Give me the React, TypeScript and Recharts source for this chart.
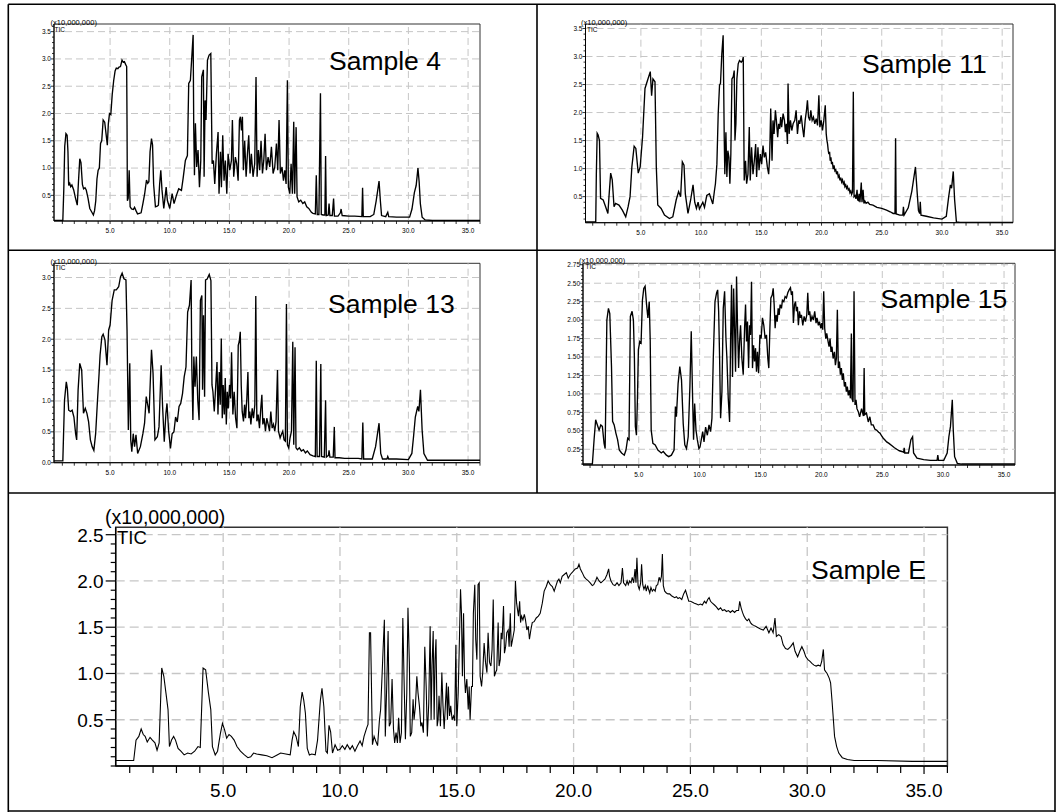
import React from 'react';
import { LineChart, Line, XAxis, YAxis, ReferenceLine, ReferenceArea } from 'recharts';

type Pt = [number, number];

const FONT = '"Liberation Sans", Arial, sans-serif';

// retention time (min) ticks
const xMajorTicks = [5, 10, 15, 20, 25, 30, 35];
const xMinorStep = 1;

// TIC intensity (x10,000,000) major ticks per panel
const yMajor4 = [0.5, 1.0, 1.5, 2.0, 2.5, 3.0, 3.5];
const yMajor11 = [0.5, 1.0, 1.5, 2.0, 2.5, 3.0, 3.5];
const yMajor13 = [0.0, 0.5, 1.0, 1.5, 2.0, 2.5, 3.0];
const yMajor15 = [0.25, 0.5, 0.75, 1.0, 1.25, 1.5, 1.75, 2.0, 2.25, 2.5, 2.75];
const yMajorE = [0.5, 1.0, 1.5, 2.0, 2.5];

const sampleNames = ['Sample 4', 'Sample 11', 'Sample 13', 'Sample 15', 'Sample E'];
const unitLabel = '(x10,000,000)';
const ticLabel = 'TIC';

const sample4: Pt[] = [
  [0.3,0.04],[1.04,0.04],[1.12,0.6],[1.2,1.4],[1.3,1.63],[1.4,1.6],[1.47,1.3],[1.53,0.68],[1.62,0.72],[1.7,0.66],[1.8,0.69],[1.95,0.6],[2.1,0.45],[2.25,0.32],[2.35,0.75],[2.46,1.17],[2.56,1.1],[2.68,0.7],[2.78,0.62],[2.9,0.64],[3.0,0.6],[3.15,0.45],[3.3,0.26],[3.45,0.2],[3.6,0.14],[3.7,0.22],[3.8,0.4],[3.9,0.8],[4.0,0.96],[4.1,1.0],[4.2,1.45],[4.3,1.5],[4.42,1.88],[4.55,1.84],[4.65,1.65],[4.77,1.42],[4.85,1.8],[4.95,2.0],[5.06,1.98],[5.18,2.35],[5.3,2.6],[5.42,2.78],[5.52,2.83],[5.65,2.82],[5.75,2.85],[5.87,2.86],[6.0,2.98],[6.1,2.94],[6.2,2.95],[6.3,2.9],[6.39,2.86],[6.42,1.8],[6.45,0.4],[6.52,0.45],[6.6,0.96],[6.68,0.29],[6.8,0.25],[6.95,0.24],[7.05,0.28],[7.17,0.22],[7.3,0.16],[7.45,0.17],[7.6,0.18],[7.75,0.35],[7.9,0.53],[8.05,0.78],[8.15,0.72],[8.25,0.75],[8.35,1.3],[8.47,1.54],[8.56,1.42],[8.65,0.7],[8.8,0.29],[8.95,0.3],[9.05,0.32],[9.15,0.7],[9.25,0.96],[9.35,0.6],[9.5,0.26],[9.6,0.45],[9.7,0.65],[9.8,0.41],
  [10.0,0.26],[10.2,0.53],[10.36,0.35],[10.56,0.5],[10.75,0.62],[10.98,0.59],[11.12,0.81],[11.31,1.14],[11.48,1.23],[11.59,2.55],[11.73,2.61],[11.96,3.44],[12.01,1.75],[12.07,0.87],[12.15,1.82],[12.26,1.02],[12.37,1.33],[12.49,0.65],[12.6,1.14],[12.68,2.67],[12.82,2.8],[12.88,0.84],[12.96,2.24],[13.04,1.88],[13.16,2.98],[13.3,3.07],[13.44,3.1],[13.55,1.08],[13.66,1.14],[13.77,0.71],[13.91,1.26],[14.05,1.66],[14.13,0.53],[14.25,1.3],[14.33,0.65],[14.44,1.6],[14.55,0.77],[14.66,1.14],[14.78,0.53],[14.89,1.26],[15.03,0.96],[15.17,1.14],[15.25,1.88],[15.36,0.84],[15.5,1.2],[15.61,1.08],[15.73,0.77],[15.84,1.88],[15.92,1.94],[16.01,1.69],[16.09,1.94],[16.17,0.96],[16.28,1.5],[16.4,0.84],[16.51,1.26],[16.62,1.6],[16.73,0.9],[16.84,1.26],[16.98,0.84],[17.12,1.08],[17.23,2.67],[17.32,0.84],[17.43,1.33],[17.54,0.96],[17.65,1.5],[17.77,0.9],[17.88,1.14],[17.99,1.63],[18.1,0.96],[18.24,1.2],[18.38,1.02],[18.52,1.39],[18.66,0.9],[18.8,1.02],[18.94,1.45],[19.05,0.96],[19.16,1.88],[19.27,0.9],[19.41,1.02],[19.53,0.77],[19.64,0.96],[19.75,0.71],[19.86,2.61],[19.94,0.65],[20.06,0.53],[20.17,1.08],[20.28,0.53],[20.39,1.85],[20.47,0.53],[20.59,1.75],[20.67,0.47],[20.81,0.38],[20.98,0.41],[21.15,0.35],[21.31,0.38],[21.48,0.29],[21.65,0.26],[21.87,0.19],
  [22.0,0.17],[22.2,0.16],[22.28,0.87],[22.36,0.15],[22.5,0.15],[22.63,2.37],[22.7,0.15],[22.85,0.14],[23.0,0.14],[23.06,1.22],[23.12,0.13],[23.28,0.14],[23.35,0.35],[23.42,0.13],[23.62,0.13],[23.73,0.44],[23.8,0.12],[24.1,0.12],[24.3,0.18],[24.36,0.25],[24.45,0.13],[25.0,0.12],[25.5,0.12],[26.1,0.11],[26.16,0.64],[26.22,0.11],[26.8,0.11],[27.1,0.15],[27.3,0.4],[27.54,0.76],[27.65,0.4],[27.75,0.13],[28.1,0.11],[28.27,0.19],[28.35,0.11],[29.0,0.1],[29.6,0.1],[30.1,0.1],[30.3,0.25],[30.5,0.55],[30.65,0.68],[30.8,1.0],[30.9,0.75],[31.0,0.35],[31.15,0.1],[31.4,0.05],[32.0,0.04],[36.0,0.04],
];

const sample11: Pt[] = [
  [0.4,0.05],[1.25,0.05],[1.3,0.9],[1.37,1.63],[1.45,1.6],[1.56,1.5],[1.65,0.47],[1.87,0.44],[2.07,0.32],[2.26,0.2],[2.35,0.5],[2.49,0.92],[2.62,0.8],[2.77,0.32],[2.9,0.38],[3.18,0.35],[3.46,0.26],[3.74,0.14],[3.94,0.32],[4.1,0.5],[4.25,1.03],[4.44,1.4],[4.58,1.36],[4.78,0.92],[4.94,1.03],[5.14,1.57],[5.34,2.43],[5.56,2.58],[5.78,2.73],[5.89,2.3],[6.0,2.6],[6.17,2.55],[6.28,1.03],[6.4,0.35],[6.68,0.29],[6.96,0.17],[7.37,0.11],[7.65,0.14],[7.93,0.44],[8.13,0.59],[8.3,0.5],[8.44,1.12],[8.58,1.06],[8.69,0.55],[8.91,0.2],[9.13,0.44],[9.33,0.71],[9.47,0.4],[9.61,0.29],[9.75,0.4],
  [9.86,0.28],[10.14,0.4],[10.28,0.31],[10.47,0.52],[10.69,0.55],[10.83,0.46],[10.97,0.37],[11.11,0.61],[11.19,0.73],[11.31,1.08],[11.42,1.98],[11.53,2.49],[11.61,2.52],[11.72,3.05],[11.83,3.38],[11.92,1.56],[11.97,0.9],[12.06,1.65],[12.14,0.85],[12.22,1.32],[12.31,1.2],[12.39,0.73],[12.47,1.26],[12.56,2.6],[12.67,2.64],[12.75,2.75],[12.81,1.5],[12.89,1.8],[12.97,2.6],[13.08,2.87],[13.19,2.93],[13.33,2.9],[13.44,2.93],[13.5,2.99],[13.58,0.79],[13.69,1.14],[13.78,0.73],[13.89,0.9],[14.0,1.74],[14.08,0.79],[14.19,1.38],[14.31,0.9],[14.42,1.14],[14.53,1.44],[14.61,0.85],[14.72,1.38],[14.81,0.97],[14.92,1.26],[15.03,1.08],[15.14,1.41],[15.25,1.2],[15.36,1.29],[15.5,1.03],[15.61,0.9],[15.69,1.2],[15.78,2.07],[15.89,1.14],[15.97,1.86],[16.06,1.62],[16.17,2.04],[16.25,1.86],[16.36,1.56],[16.44,1.8],[16.53,1.71],[16.61,1.92],[16.69,1.74],[16.81,1.98],[16.92,1.86],[17.0,1.65],[17.08,1.8],[17.17,1.44],[17.22,2.52],[17.31,1.62],[17.42,1.86],[17.53,1.68],[17.64,1.8],[17.78,1.86],[17.89,2.04],[18.0,1.62],[18.11,1.86],[18.19,1.8],[18.31,1.95],[18.42,1.74],[18.53,1.56],[18.64,1.86],[18.75,2.04],[18.83,2.22],[18.92,1.92],[19.03,1.86],[19.11,2.04],[19.22,1.86],[19.33,1.92],[19.44,1.8],[19.56,1.89],[19.67,1.77],[19.78,2.31],[19.86,1.74],[19.97,1.86],[20.08,1.68],[20.19,1.86],[20.31,2.13],
  [20.39,1.62],[20.45,1.5],[20.5,1.44],[20.56,1.32],[20.61,1.26],[20.67,1.3],[20.72,1.14],[20.78,1.2],[20.83,1.08],[20.9,1.12],[20.97,0.99],[21.04,1.06],[21.11,0.96],[21.18,0.98],[21.25,0.9],[21.32,0.95],[21.39,0.85],[21.46,0.88],[21.53,0.79],[21.6,0.84],[21.67,0.76],[21.74,0.8],[21.81,0.73],[21.88,0.76],[21.94,0.68],[22.01,0.71],[22.08,0.65],[22.15,0.68],[22.22,0.62],[22.29,0.64],[22.36,0.57],[22.43,0.6],[22.5,0.54],[22.57,0.58],[22.64,2.37],[22.7,0.5],[22.78,0.52],[22.86,0.46],[22.95,0.62],[23.0,0.44],[23.06,0.43],[23.12,0.55],[23.19,0.4],[23.3,0.75],[23.36,0.4],[23.45,0.62],[23.52,0.38],[23.6,0.42],[23.7,0.38],[23.85,0.4],[24.0,0.36],[24.27,0.35],[24.6,0.31],[25.0,0.29],[25.4,0.26],[25.7,0.23],[25.95,0.2],[26.1,0.2],[26.15,1.54],[26.2,0.19],[26.5,0.17],[26.75,0.17],[26.8,0.32],[26.86,0.17],[27.2,0.3],[27.5,0.6],[27.8,1.03],[27.95,0.55],[28.05,0.25],[28.15,0.2],[28.2,0.41],[28.26,0.17],[28.7,0.15],[29.3,0.12],[30.0,0.1],[30.36,0.15],[30.56,0.5],[30.7,0.71],[30.8,0.65],[30.94,0.95],[31.05,0.45],[31.2,0.05],[31.5,0.04],[36.0,0.04],
];

const sample13: Pt[] = [
  [0.3,0.03],[1.04,0.03],[1.18,1.01],[1.33,1.31],[1.42,1.2],[1.53,0.85],[1.68,0.83],[1.82,0.85],[1.97,0.74],[2.11,0.47],[2.2,0.37],[2.32,1.18],[2.46,1.61],[2.62,1.5],[2.77,0.8],[2.92,0.88],[3.06,0.8],[3.2,0.66],[3.35,0.37],[3.5,0.26],[3.64,0.2],[3.79,0.47],[3.93,0.96],[4.08,1.45],[4.16,1.74],[4.31,2.04],[4.42,2.08],[4.57,1.99],[4.74,1.58],[4.88,2.15],[5.0,2.23],[5.17,2.63],[5.35,2.8],[5.52,2.8],[5.72,2.85],[5.87,3.01],[6.01,3.07],[6.16,2.98],[6.33,2.96],[6.42,2.15],[6.53,0.53],[6.65,1.61],[6.73,0.37],[6.82,0.18],[6.94,0.47],[7.05,0.26],[7.17,0.45],[7.31,0.15],[7.54,0.26],[7.75,0.47],[7.89,0.64],[8.03,1.07],[8.18,0.91],[8.27,0.8],[8.47,1.83],[8.6,1.45],[8.76,0.37],[8.96,0.42],[9.1,0.58],[9.28,1.58],[9.4,0.91],[9.54,0.34],[9.68,0.8],[9.77,0.96],[9.9,0.53],[10.06,0.23],[10.2,0.47],[10.35,0.5],[10.49,0.74],[10.63,0.66],[10.78,0.91],[10.92,0.96],[11.07,1.12],[11.21,1.39],[11.36,1.55],[11.5,2.44],[11.65,2.55],[11.79,2.96],[11.85,1.55],[11.94,0.69],[12.02,1.72],[12.12,1.23],[12.23,1.72],[12.35,1.01],[12.46,0.69],[12.57,2.63],[12.69,2.71],[12.75,1.18],[12.83,2.39],[12.92,1.07],[13.0,2.96],[13.12,2.97],[13.31,3.05],[13.45,2.95],
  [13.54,1.26],[13.62,1.15],[13.73,0.83],[13.84,1.2],[13.96,1.63],[14.04,0.78],[14.15,1.47],[14.23,0.94],[14.32,2.01],[14.4,0.72],[14.48,1.26],[14.57,0.78],[14.65,1.37],[14.74,0.62],[14.82,1.15],[14.9,0.88],[15.01,1.26],[15.1,1.04],[15.18,1.79],[15.29,0.78],[15.4,1.15],[15.52,0.72],[15.63,0.56],[15.74,1.9],[15.82,1.96],[15.91,2.12],[15.99,1.26],[16.07,0.83],[16.18,0.67],[16.27,0.94],[16.35,0.72],[16.46,1.04],[16.55,1.47],[16.63,0.72],[16.71,0.83],[16.8,0.62],[16.91,0.88],[17.02,0.72],[17.13,0.94],[17.21,2.7],[17.3,0.67],[17.41,0.78],[17.52,0.56],[17.63,0.88],[17.72,1.1],[17.8,0.62],[17.91,0.72],[18.02,0.51],[18.13,0.72],[18.25,0.62],[18.36,0.51],[18.47,0.83],[18.58,0.56],[18.69,0.62],[18.8,0.51],[18.91,0.67],[19.03,1.5],[19.11,0.51],[19.25,0.4],[19.36,0.46],[19.47,0.51],[19.58,0.37],[19.69,0.35],[19.78,2.57],[19.86,0.29],[19.97,0.24],[20.08,0.4],[20.2,0.51],[20.31,1.96],[20.39,0.29],[20.5,1.87],[20.58,0.24],[20.7,0.21],[20.86,0.24],[21.03,0.19],[21.2,0.21],[21.37,0.16],[21.53,0.19],[21.76,0.13],
  [22.0,0.11],[22.2,0.1],[22.28,1.65],[22.35,0.1],[22.55,0.1],[22.66,1.6],[22.72,0.1],[22.95,0.09],[23.06,1.01],[23.12,0.09],[23.3,0.12],[23.35,0.2],[23.42,0.09],[23.7,0.09],[23.79,0.58],[23.85,0.08],[24.2,0.08],[24.65,0.07],[25.2,0.07],[25.8,0.07],[26.1,0.06],[26.18,0.65],[26.25,0.06],[26.97,0.06],[27.25,0.26],[27.54,0.64],[27.68,0.15],[27.83,0.06],[28.2,0.06],[28.27,0.1],[28.35,0.06],[29.0,0.06],[30.0,0.05],[30.29,0.15],[30.43,0.42],[30.58,0.74],[30.78,0.91],[30.88,0.83],[31.01,1.18],[31.15,0.53],[31.3,0.15],[31.6,0.04],[36.0,0.04],
];

const sample15: Pt[] = [
  [0.42,0.05],[1.19,0.05],[1.33,0.38],[1.46,0.65],[1.6,0.58],[1.74,0.51],[1.88,0.58],[2.01,0.56],[2.15,0.33],[2.24,0.26],[2.38,2.0],[2.51,2.16],[2.62,2.09],[2.76,1.37],[2.85,0.63],[2.98,0.58],[3.12,0.47],[3.26,0.38],[3.4,0.24],[3.59,0.2],[3.81,0.17],[3.95,0.24],[4.09,0.4],[4.2,0.38],[4.31,2.05],[4.45,2.12],[4.56,2.0],[4.64,1.51],[4.72,0.56],[4.81,0.44],[4.89,0.92],[4.97,1.6],[5.08,1.71],[5.19,1.69],[5.3,2.27],[5.41,2.43],[5.52,2.46],[5.64,2.21],[5.75,2.03],[5.86,2.25],[5.94,1.73],[6.02,0.51],[6.16,0.33],[6.35,0.31],[6.57,0.24],[6.85,0.2],[7.01,0.22],[7.27,0.17],[7.46,0.15],[7.68,0.17],[7.9,0.24],[8.01,0.83],[8.09,0.69],[8.23,1.14],[8.37,1.37],[8.51,1.19],[8.65,0.6],[8.78,0.31],[8.92,0.26],[9.06,0.42],[9.2,1.1],[9.31,1.85],[9.42,0.96],[9.5,0.38],[9.59,0.87],[9.7,0.51],[9.81,0.38],[9.94,0.26],
  [10.03,0.28],[10.25,0.49],[10.36,0.35],[10.49,0.55],[10.63,0.44],[10.77,0.58],[10.9,0.49],[11.01,0.67],[11.12,1.48],[11.26,2.25],[11.39,2.37],[11.48,2.41],[11.56,2.12],[11.64,1.48],[11.72,0.67],[11.83,1.03],[11.94,2.16],[12.05,2.39],[12.16,1.75],[12.24,1.48],[12.35,0.94],[12.46,0.62],[12.54,1.71],[12.62,2.48],[12.7,1.23],[12.79,2.43],[12.87,1.89],[12.95,1.3],[13.03,2.59],[13.11,1.93],[13.2,1.35],[13.28,1.71],[13.36,1.93],[13.47,1.48],[13.58,1.26],[13.69,1.89],[13.77,2.21],[13.85,1.71],[13.93,1.98],[14.02,1.35],[14.1,1.93],[14.18,1.8],[14.26,2.52],[14.34,1.35],[14.43,1.66],[14.51,1.44],[14.59,1.62],[14.67,1.3],[14.75,1.57],[14.84,1.28],[14.95,1.8],[15.05,1.75],[15.16,2.03],[15.27,1.93],[15.38,1.75],[15.49,1.8],[15.6,1.48],[15.68,1.35],[15.77,1.89],[15.85,2.3],[15.96,2.34],[16.04,2.43],[16.12,2.21],[16.2,1.89],[16.28,2.07],[16.37,1.98],[16.45,2.16],[16.53,2.07],[16.61,2.21],[16.72,2.16],[16.8,2.27],[16.91,2.25],[17.02,2.32],[17.13,2.3],[17.24,2.37],[17.35,2.41],[17.46,2.44],[17.54,2.34],[17.62,2.39],[17.7,1.96],[17.79,2.21],[17.87,2.25],[17.95,2.12],[18.03,2.18],[18.11,1.93],[18.2,2.12],[18.28,2.03],[18.36,2.07],[18.47,1.93],[18.58,2.05],[18.69,1.98],[18.8,2.07],[18.88,2.37],[18.96,2.07],[19.04,2.12],[19.13,1.98],[19.23,2.05],[19.34,2.0],[19.45,2.12],[19.56,1.96],[19.64,2.03],[19.75,1.93],[19.84,1.98],[19.95,1.89],[20.03,1.96],[20.11,1.87],[20.19,2.39],[20.27,1.89],[20.36,1.75],[20.44,1.82],[20.55,1.71],[20.63,1.64],[20.71,1.75],[20.79,1.57],[20.87,1.64],[20.96,1.48],[21.07,1.57],[21.15,1.39],[21.23,1.48],[21.31,2.14],[21.39,1.35],[21.48,1.44],[21.56,1.26],[21.64,1.35],[21.72,1.19],[21.8,1.28],[21.89,1.1],[21.97,1.16],[22.05,1.03],[22.13,1.1],[22.21,0.98],[22.3,1.05],[22.38,0.94],[22.46,1.82],[22.51,0.94],[22.6,0.89],[22.68,2.39],[22.76,0.85],[22.84,0.92],[22.92,0.8],[23.03,0.76],[23.14,0.69],
  [23.3,0.8],[23.45,0.7],[23.51,1.35],[23.56,0.72],[23.7,0.74],[23.85,0.62],[23.98,0.69],[24.1,0.58],[24.25,0.58],[24.4,0.52],[24.53,0.51],[24.7,0.48],[24.81,0.47],[24.95,0.43],[25.08,0.4],[25.2,0.38],[25.36,0.35],[25.55,0.33],[25.77,0.3],[26.0,0.27],[26.19,0.25],[26.4,0.23],[26.6,0.22],[26.75,0.21],[26.8,0.27],[26.85,0.2],[27.15,0.2],[27.35,0.38],[27.49,0.42],[27.57,0.2],[27.85,0.13],[28.4,0.11],[28.95,0.1],[29.5,0.1],[29.56,0.17],[29.62,0.1],[30.05,0.1],[30.33,0.2],[30.47,0.42],[30.6,0.56],[30.75,0.92],[30.83,0.51],[30.94,0.15],[31.16,0.06],[31.5,0.05],[36.0,0.05],
];

const sampleE: Pt[] = [
  [0.4,0.06],[1.17,0.06],[1.27,0.28],[1.39,0.32],[1.49,0.4],[1.58,0.34],[1.66,0.32],[1.75,0.26],[1.87,0.31],[1.97,0.28],[2.08,0.25],[2.17,0.17],[2.26,0.25],[2.37,1.06],[2.46,0.97],[2.55,0.79],[2.64,0.61],[2.7,0.21],[2.79,0.28],[2.88,0.32],[2.96,0.28],[3.07,0.19],[3.19,0.16],[3.33,0.12],[3.48,0.14],[3.63,0.13],[3.78,0.16],[3.92,0.21],[4.02,0.2],[4.14,1.06],[4.25,1.04],[4.37,0.79],[4.47,0.61],[4.54,0.21],[4.66,0.12],[4.76,0.16],[4.88,0.35],[4.97,0.46],[5.06,0.39],[5.15,0.3],[5.25,0.34],[5.35,0.32],[5.47,0.28],[5.59,0.21],[5.74,0.16],[5.91,0.12],[6.06,0.09],[6.18,0.1],[6.3,0.14],[6.43,0.13],[6.65,0.12],[6.87,0.11],[7.09,0.09],[7.31,0.12],[7.46,0.14],[7.68,0.13],[7.87,0.12],[7.95,0.28],[8.02,0.37],[8.12,0.32],[8.22,0.21],[8.3,0.64],[8.38,0.8],[8.45,0.71],[8.52,0.57],[8.6,0.19],[8.69,0.12],[8.79,0.13],[8.94,0.12],[9.04,0.28],[9.16,0.71],[9.23,0.84],[9.31,0.64],[9.4,0.16],[9.46,0.14],[9.53,0.44],[9.6,0.37],[9.68,0.14],[9.79,0.23],[9.9,0.17],
  [10.0,0.18],[10.1,0.22],[10.21,0.18],[10.31,0.23],[10.43,0.18],[10.53,0.22],[10.64,0.16],[10.75,0.22],[10.86,0.27],[10.95,0.22],[11.03,0.32],[11.14,0.41],[11.2,0.45],[11.26,1.44],[11.31,1.44],[11.39,0.23],[11.46,0.32],[11.53,0.27],[11.61,0.22],[11.69,0.5],[11.74,0.61],[11.8,0.97],[11.85,1.29],[11.9,1.58],[11.94,0.32],[12.0,0.86],[12.06,1.46],[12.11,0.43],[12.17,0.47],[12.23,0.94],[12.29,0.4],[12.34,0.25],[12.4,0.36],[12.46,0.25],[12.51,0.52],[12.57,0.25],[12.63,0.36],[12.69,1.6],[12.74,0.97],[12.8,0.29],[12.86,0.79],[12.91,1.71],[12.97,1.12],[13.01,0.32],[13.07,0.36],[13.13,0.72],[13.17,0.5],[13.23,0.65],[13.29,0.97],[13.34,0.79],[13.4,0.65],[13.46,0.43],[13.51,0.47],[13.57,0.36],[13.63,1.29],[13.69,0.86],[13.74,0.32],[13.8,0.68],[13.86,1.51],[13.9,0.5],[13.94,1.08],[13.99,1.46],[14.03,0.5],[14.07,1.15],[14.11,1.37],[14.16,0.43],[14.2,0.5],[14.24,0.76],[14.3,0.43],[14.36,1.01],[14.41,0.65],[14.46,0.4],[14.51,0.65],[14.56,0.9],[14.6,0.5],[14.64,0.86],[14.69,0.54],[14.74,0.65],[14.8,0.5],[14.86,0.54],[14.91,0.49],[14.96,1.31],[15.0,0.43],[15.06,0.79],[15.1,1.22],[15.16,1.91],[15.2,1.65],[15.24,0.97],[15.29,1.65],[15.33,0.97],[15.37,0.79],[15.43,0.94],[15.49,0.61],[15.53,0.86],[15.57,0.5],[15.63,0.86],[15.67,0.86],[15.71,1.65],[15.77,1.96],[15.81,1.37],[15.86,1.15],[15.91,1.96],[15.96,1.98],[16.0,0.97],[16.06,0.86],[16.11,1.01],[16.17,1.33],[16.23,1.12],[16.29,1.01],[16.34,1.44],[16.4,1.12],[16.46,1.08],[16.51,1.26],[16.56,1.8],[16.61,0.97],[16.66,1.01],[16.71,1.04],[16.77,1.55],[16.81,1.08],[16.86,1.15],[16.9,1.44],[16.94,1.37],[17.0,1.73],[17.04,1.22],[17.09,1.29],[17.14,1.44],[17.2,1.47],[17.24,1.29],[17.29,1.65],[17.33,1.29],[17.39,1.37],[17.46,1.47],[17.51,2.0],[17.56,1.76],[17.6,1.69],[17.64,1.62],[17.69,1.78],[17.73,1.55],[17.77,1.62],[17.83,1.58],[17.89,1.64],[17.94,1.58],[18.0,1.47],[18.06,1.51],[18.11,1.37],[18.17,1.47],[18.23,1.55],[18.31,1.56],[18.4,1.6],[18.49,1.62],[18.57,1.65],[18.66,1.76],[18.74,1.89],[18.83,1.94],[18.91,2.0],[19.0,1.96],[19.09,1.94],[19.17,1.89],[19.26,1.96],[19.31,2.0],[19.37,2.02],[19.43,1.98],[19.51,2.05],[19.6,2.07],[19.69,2.09],[19.77,2.03],[19.86,2.07],
  [19.97,2.1],[20.07,2.13],[20.17,2.14],[20.23,2.18],[20.29,2.13],[20.37,2.09],[20.46,2.04],[20.54,2.02],[20.63,2.0],[20.71,1.98],[20.8,1.95],[20.86,1.96],[20.94,2.0],[21.0,2.04],[21.09,2.0],[21.17,1.98],[21.26,2.0],[21.34,2.02],[21.43,2.07],[21.5,2.13],[21.54,2.05],[21.6,2.0],[21.69,1.96],[21.77,1.95],[21.86,1.98],[21.94,1.95],[22.03,1.98],[22.09,2.14],[22.14,1.98],[22.23,1.95],[22.29,2.0],[22.34,1.96],[22.4,2.0],[22.46,1.98],[22.51,2.04],[22.57,1.98],[22.63,2.13],[22.67,1.98],[22.71,2.25],[22.76,1.95],[22.81,1.91],[22.87,1.98],[22.91,2.18],[22.96,1.96],[23.01,1.91],[23.07,1.95],[23.11,1.89],[23.17,1.95],[23.21,1.91],[23.26,1.87],[23.31,1.93],[23.37,1.89],[23.43,1.91],[23.49,1.89],[23.54,1.95],[23.6,1.96],[23.66,2.04],[23.71,2.0],[23.76,2.05],[23.8,2.29],[23.84,1.95],[23.9,1.89],[23.97,1.87],[24.04,1.86],[24.11,1.86],[24.19,1.84],[24.26,1.83],[24.33,1.82],[24.4,1.83],[24.47,1.81],[24.54,1.82],[24.63,1.8],[24.71,1.86],[24.79,1.9],[24.86,1.84],[24.93,1.78],[25.0,1.78],[25.09,1.77],[25.17,1.76],[25.26,1.75],[25.34,1.74],[25.43,1.75],[25.51,1.74],[25.6,1.78],[25.67,1.76],[25.74,1.8],[25.8,1.82],[25.86,1.78],[25.94,1.76],[26.03,1.74],[26.11,1.72],[26.2,1.69],[26.29,1.71],[26.37,1.68],[26.46,1.69],[26.54,1.67],[26.63,1.68],[26.71,1.66],[26.8,1.68],[26.89,1.66],[26.97,1.68],[27.06,1.68],[27.11,1.78],[27.17,1.71],[27.23,1.66],[27.29,1.62],[27.36,1.59],[27.43,1.57],[27.5,1.59],[27.57,1.55],[27.64,1.53],[27.71,1.52],[27.79,1.51],[27.86,1.5],[28.0,1.48],
  [28.12,1.47],[28.24,1.51],[28.36,1.44],[28.45,1.49],[28.54,1.44],[28.62,1.6],[28.68,1.4],[28.78,1.42],[28.88,1.4],[28.97,1.31],[29.07,1.27],[29.17,1.26],[29.29,1.29],[29.4,1.33],[29.48,1.24],[29.59,1.18],[29.68,1.24],[29.77,1.29],[29.86,1.24],[29.94,1.18],[30.03,1.15],[30.12,1.13],[30.2,1.11],[30.29,1.09],[30.38,1.08],[30.47,1.09],[30.56,1.08],[30.62,1.13],[30.69,1.26],[30.74,1.04],[30.79,1.02],[30.85,1.0],[30.94,0.95],[31.0,0.9],[31.06,0.71],[31.12,0.5],[31.17,0.32],[31.26,0.21],[31.35,0.14],[31.5,0.09],[31.72,0.07],[32.01,0.06],[33.0,0.06],[34.5,0.05],[36.0,0.05],
];

const stepsIn = (lo: number, hi: number, step: number): number[] => {
  const out: number[] = [];
  const n0 = Math.ceil(lo / step - 1e-9);
  const n1 = Math.floor(hi / step + 1e-9);
  for (let i = n0; i <= n1; i++) out.push(Math.round(i * step * 1000) / 1000);
  return out;
};
const isIn = (v: number, arr: number[]) => arr.some((m) => Math.abs(m - v) < 1e-6);

interface PanelCfg {
  data: Pt[];
  cell: [number, number, number, number];
  plot: [number, number, number, number];
  xDomain: [number, number];
  yDomain: [number, number];
  yMajor: number[];
  yMinorStep: number;
  yDecimals: number;
  big: boolean;
}

const Panel = ({ cfg }: { cfg: PanelCfg }) => {
  const [cx, cy, cw, ch] = cfg.cell;
  const [pl, pt, pr, pb] = cfg.plot;
  const big = cfg.big;
  const data = cfg.data.map(([t, v]) => ({ t, v }));
  const xTicks = stepsIn(cfg.xDomain[0], cfg.xDomain[1], xMinorStep);
  const yTicks = stepsIn(cfg.yDomain[0], cfg.yDomain[1], cfg.yMinorStep);
  const fs = big ? 19 : 6.5;
  const XTick = (p: any) => {
    const { x, y, payload } = p;
    const major = isIn(payload.value, xMajorTicks);
    return (
      <g>
        <line x1={x} x2={x} y1={y} y2={y + (big ? (major ? 8 : 7) : 3)} stroke="#000" strokeWidth={big ? 1.2 : 0.8} />
        {major && (
          <text x={x} y={y + (big ? 31 : 12)} textAnchor="middle" fontSize={fs} fontFamily={FONT} fill="#000">
            {payload.value.toFixed(1)}
          </text>
        )}
      </g>
    );
  };
  const YTick = (p: any) => {
    const { x, y, payload } = p;
    const major = isIn(payload.value, cfg.yMajor);
    const len = big ? (major ? 10 : 5) : major ? 3 : 2;
    return (
      <g>
        <line x1={x} x2={x - len} y1={y} y2={y} stroke="#000" strokeWidth={big ? 1.2 : 0.8} />
        {major && (
          <text x={x - (big ? 12 : 3)} y={y} dy="0.36em" textAnchor="end" fontSize={fs} fontFamily={FONT} fill="#000">
            {payload.value.toFixed(cfg.yDecimals)}
          </text>
        )}
      </g>
    );
  };
  const gridStroke = '#c6c6c6';
  const dash = big ? '9 5' : '7 4';
  return (
    <div style={{ position: 'absolute', left: cx, top: cy }}>
      <LineChart
        width={cw}
        height={ch}
        data={data}
        margin={{ top: pt - cy, right: cx + cw - pr, bottom: 0, left: 0 }}
      >
        <XAxis
          type="number"
          dataKey="t"
          domain={cfg.xDomain}
          allowDataOverflow
          ticks={xTicks}
          interval={0}
          tickSize={0}
          tickMargin={0}
          tickLine={false}
          height={cy + ch - pb}
          axisLine={{ stroke: '#000', strokeWidth: big ? 1.3 : 1 }}
          tick={XTick}
        />
        <YAxis
          type="number"
          domain={cfg.yDomain}
          allowDataOverflow
          ticks={yTicks}
          interval={0}
          tickSize={0}
          tickMargin={0}
          tickLine={false}
          width={pl - cx}
          axisLine={{ stroke: '#000', strokeWidth: big ? 1.3 : 1 }}
          tick={YTick}
        />
        {xMajorTicks.map((m) => (
          <ReferenceLine key={'x' + m} x={m} stroke={gridStroke} strokeWidth={big ? 1.3 : 1} strokeDasharray={dash} />
        ))}
        {cfg.yMajor
          .filter((m) => m > cfg.yDomain[0] + 0.02)
          .map((m) => (
            <ReferenceLine key={'y' + m} y={m} stroke={gridStroke} strokeWidth={big ? 1.3 : 1} strokeDasharray={dash} />
          ))}
        <ReferenceArea
          x1={cfg.xDomain[0]}
          x2={cfg.xDomain[1]}
          y1={cfg.yDomain[0]}
          y2={cfg.yDomain[1]}
          fill="none"
          fillOpacity={0}
          stroke="#333"
          strokeWidth={big ? 1.5 : 1}
        />
        <Line
          type="linear"
          dataKey="v"
          stroke="#000"
          strokeWidth={big ? 1.1 : 1.35}
          dot={false}
          isAnimationActive={false}
        />
      </LineChart>
    </div>
  );
};

const panels: PanelCfg[] = [
  { data: sample4, cell: [9, 5, 527, 245], plot: [54, 24, 480, 221], xDomain: [0.3, 36.0], yDomain: [0.03, 3.64], yMajor: yMajor4, yMinorStep: 0.1, yDecimals: 1, big: false },
  { data: sample11, cell: [538, 5, 517, 245], plot: [585.5, 24, 1013, 222.7], xDomain: [0.4, 35.9], yDomain: [0.035, 3.58], yMajor: yMajor11, yMinorStep: 0.1, yDecimals: 1, big: false },
  { data: sample13, cell: [9, 251, 527, 242], plot: [54, 263.3, 480, 462.7], xDomain: [0.3, 36.0], yDomain: [0, 3.23], yMajor: yMajor13, yMinorStep: 0.1, yDecimals: 1, big: false },
  { data: sample15, cell: [538, 251, 517, 242], plot: [583, 263.3, 1015, 465], xDomain: [0.42, 35.9], yDomain: [0.037, 2.77], yMajor: yMajor15, yMinorStep: 0.05, yDecimals: 2, big: false },
  { data: sampleE, cell: [9, 494, 1046, 318], plot: [115.7, 527.3, 947.4, 766], xDomain: [0.4, 36.0], yDomain: [0, 2.58], yMajor: yMajorE, yMinorStep: 0.1, yDecimals: 1, big: true },
];

// text anchors: [sampleX, sampleBaseline, unitX, unitBaseline, ticX, ticBaseline]
const textPos: number[][] = [
  [329, 69.5, 50.6, 25, 54.5, 31.5],
  [862, 72.5, 581, 24.5, 587, 31.5],
  [328, 312.7, 50.6, 263.5, 55, 269.5],
  [880.6, 308.3, 579, 263.3, 585.5, 269.3],
  [811, 579, 105, 524, 117, 544],
];

export default function App() {
  return (
    <div style={{ position: 'fixed', left: 0, top: 0, width: 1057, height: 812, overflow: 'hidden', background: '#fff', fontFamily: FONT }}>
      {panels.map((p, i) => (
        <Panel key={i} cfg={p} />
      ))}
      <svg width={1057} height={812} style={{ position: 'absolute', left: 0, top: 0, pointerEvents: 'none' }}>
        <g stroke="#000" strokeWidth={1.6} fill="none">
          <line x1={8.3} y1={4.3} x2={1055} y2={4.3} />
          <line x1={8.3} y1={4.3} x2={8.3} y2={812} />
          <line x1={1055} y1={4.3} x2={1055} y2={812} />
          <line x1={8.3} y1={250.3} x2={1055} y2={250.3} />
          <line x1={8.3} y1={493} x2={1055} y2={493} />
          <line x1={537} y1={4.3} x2={537} y2={493} />
          <line x1={8.3} y1={811} x2={1055} y2={811} />
        </g>
        {textPos.map((tp, i) => {
          const big = i === 4;
          return (
            <g key={i} fontFamily={FONT} fill="#000">
              <text x={tp[0]} y={tp[1]} fontSize={26.5}>{sampleNames[i]}</text>
              <text x={tp[2]} y={tp[3]} fontSize={big ? 19.5 : 7.5}>{unitLabel}</text>
              <text x={tp[4]} y={tp[5]} fontSize={big ? 18.5 : 6.5}>{ticLabel}</text>
            </g>
          );
        })}
      </svg>
    </div>
  );
}
